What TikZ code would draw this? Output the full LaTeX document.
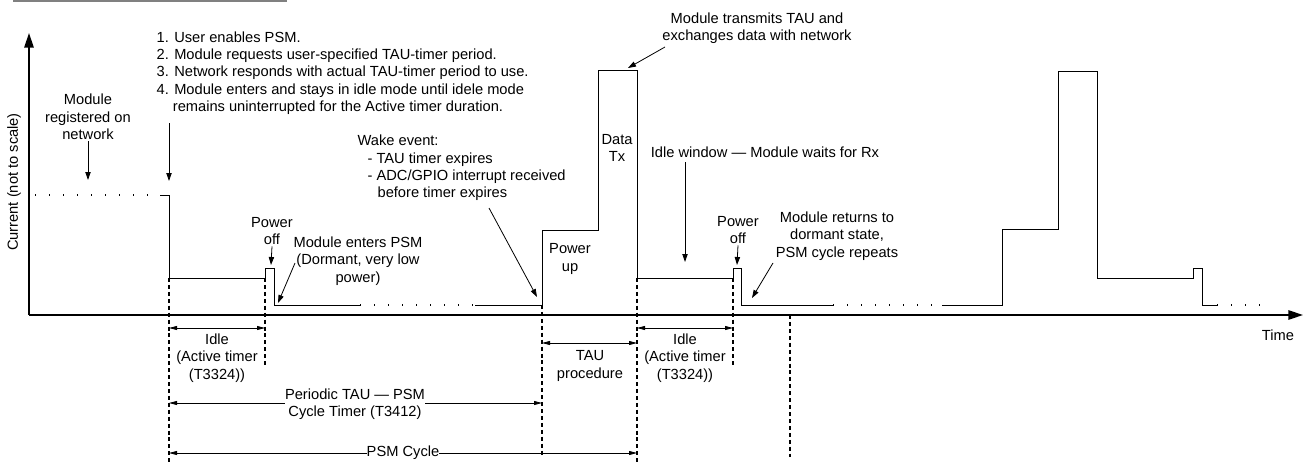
\documentclass[tikz,border=0pt]{standalone}
\usepackage{fontspec}
\setmainfont{Liberation Sans}
\usetikzlibrary{arrows.meta,positioning}

\begin{document}
\begin{tikzpicture}[
    x=0.75pt, y=-0.75pt,
    every node/.style={font=\fontsize{11}{13}\selectfont, inner sep=1pt},
    axis/.style={line width=1.5pt, -{Triangle[length=11pt,width=7pt]}},
    wave/.style={line width=0.75pt, line join=miter},
    dots/.style={line width=1pt, dash pattern=on 1pt off 9.5pt},
    marker/.style={line width=1.1pt, dash pattern=on 3pt off 2.2pt},
    annot/.style={line width=0.6pt, -{Triangle[length=6pt,width=4pt]}},
    span/.style={line width=0.6pt, {Triangle[length=6pt,width=3pt]}-{Triangle[length=6pt,width=3pt]}},
]
    \useasboundingbox (0,0) rectangle (1307,464);
    \draw[black!50, line width=2pt] (13,1) -- (287,1);

    % Axes
    \coordinate (origin) at (29,315);
    \coordinate (ytop) at (29,33);
    \coordinate (xend) at (1303,315);
    \draw[axis] (origin) -- (ytop);
    \draw[axis] (origin) -- (xend);
    \node[rotate=90] (ylbl) at (14,182) {Current (not to scale)};
    \node (timelbl) at (1278,335) {Time};

    % Current waveform
    \draw[dots] (35,195) -- (160,195);
    \draw[wave] (160,195) -- (169,195) -- (169,278) -- (265,278) -- (265,268)
        -- (274,268) -- (274,305) -- (360,305);
    \draw[dots] (360,305) -- (475,305);
    \draw[wave] (475,305) -- (542,305) -- (542,230) -- (598,230) -- (598,70)
        -- (637,70) -- (637,278) -- (733,278) -- (733,268) -- (741,268)
        -- (741,305) -- (833,305);
    \draw[dots] (833,305) -- (942,305);
    \draw[wave] (942,305) -- (1002,305) -- (1002,229) -- (1058,229) -- (1058,71)
        -- (1097,71) -- (1097,278) -- (1193,278) -- (1193,268) -- (1202,268)
        -- (1202,305) -- (1217,305);
    \draw[dots] (1217,305) -- (1265,305);

    % Time markers
    \foreach \x/\ya/\yb in {169/278/464, 265/278/365, 542/305/457,
                            637/278/464, 733/278/365, 790/315/457}
        \draw[marker] (\x,\ya) -- (\x,\yb);

    % Notes above the waveform
    \node[align=center] (regnote) at (88,117) {Module\\registered on\\network};
    \coordinate (regtip) at (88,180);
    \draw[annot] (regnote.south) -- (regtip);

    \node[align=left, anchor=west] (listnote) at (155,73) {%
        1. User enables PSM.\\
        2. Module requests user-specified TAU-timer period.\\
        3. Network responds with actual TAU-timer period to use.\\
        4. Module enters and stays in idle mode until idele mode\\
        \hspace*{12.2pt}remains uninterrupted for the Active timer duration.};
    \coordinate (liststart) at (169,123);
    \coordinate (listtip) at (169,181);
    \draw[annot] (liststart) -- (listtip);

    \node[align=center] (pwroffa) at (272,231) {Power\\off};
    \coordinate (pwroffatip) at (271,265);
    \draw[annot] (pwroffa.south) -- (pwroffatip);

    \node[align=center] (psmnote) at (358,261) {Module enters PSM\\(Dormant, very low\\power)};
    \coordinate (psmstart) at (295,263);
    \coordinate (psmtip) at (278,303);
    \draw[annot] (psmstart) -- (psmtip);

    \node[align=left, anchor=west] (wakenote) at (356,168) {%
        Wake event:\\
        \hspace*{7.5pt}- TAU timer expires\\
        \hspace*{7.5pt}- ADC/GPIO interrupt received\\
        \hspace*{15pt}before timer expires};
    \coordinate (wakestart) at (489,208);
    \coordinate (waketip) at (537,297);
    \draw[annot] (wakestart) -- (waketip);

    \node[align=center] (pwrup) at (570,259) {Power\\up};
    \node[align=center] (datatx) at (617,148) {Data\\Tx};

    \node[align=center] (txnote) at (757,28) {Module transmits TAU and\\exchanges data with network};
    \coordinate (txstart) at (665,47);
    \coordinate (txtip) at (628,68);
    \draw[annot] (txstart) -- (txtip);

    \node (idlewin) at (765,152) {Idle window --- Module waits for Rx};
    \coordinate (idlewinstart) at (685,162);
    \coordinate (idlewintip) at (685,262);
    \draw[annot] (idlewinstart) -- (idlewintip);

    \node[align=center] (pwroffb) at (738,230) {Power\\off};
    \coordinate (pwroffbtip) at (737,265);
    \draw[annot] (pwroffb.south) -- (pwroffbtip);

    \node[align=center] (retnote) at (837,236) {Module returns to\\dormant state,\\PSM cycle repeats};
    \coordinate (retstart) at (773,263);
    \coordinate (rettip) at (752,298);
    \draw[annot] (retstart) -- (rettip);

    % Intervals below the axis
    \coordinate (idleaL) at (169,328);
    \coordinate (idleaR) at (265,328);
    \draw[span] (idleaL) -- (idleaR);
    \node[align=center] (idlea) at (217,358) {Idle\\(Active timer\\(T3324))};

    \coordinate (tauL) at (542,343);
    \coordinate (tauR) at (637,343);
    \draw[span] (tauL) -- (tauR);
    \node[align=center] (tauproc) at (590,366) {TAU\\procedure};

    \coordinate (idlebL) at (637,328);
    \coordinate (idlebR) at (733,328);
    \draw[span] (idlebL) -- (idlebR);
    \node[align=center] (idleb) at (685,358) {Idle\\(Active timer\\(T3324))};

    \coordinate (periodL) at (169,403);
    \coordinate (periodR) at (542,403);
    \draw[span] (periodL) -- (periodR);
    \node[align=center, fill=white, inner sep=0pt] (tautimer) at (355,404) {Periodic TAU --- PSM\\Cycle Timer (T3412)};

    \coordinate (cycleL) at (169,453);
    \coordinate (cycleR) at (637,453);
    \draw[span] (cycleL) -- node[fill=white, inner sep=0pt] (psmcycle) {PSM Cycle} (cycleR);
\end{tikzpicture}
\end{document}
